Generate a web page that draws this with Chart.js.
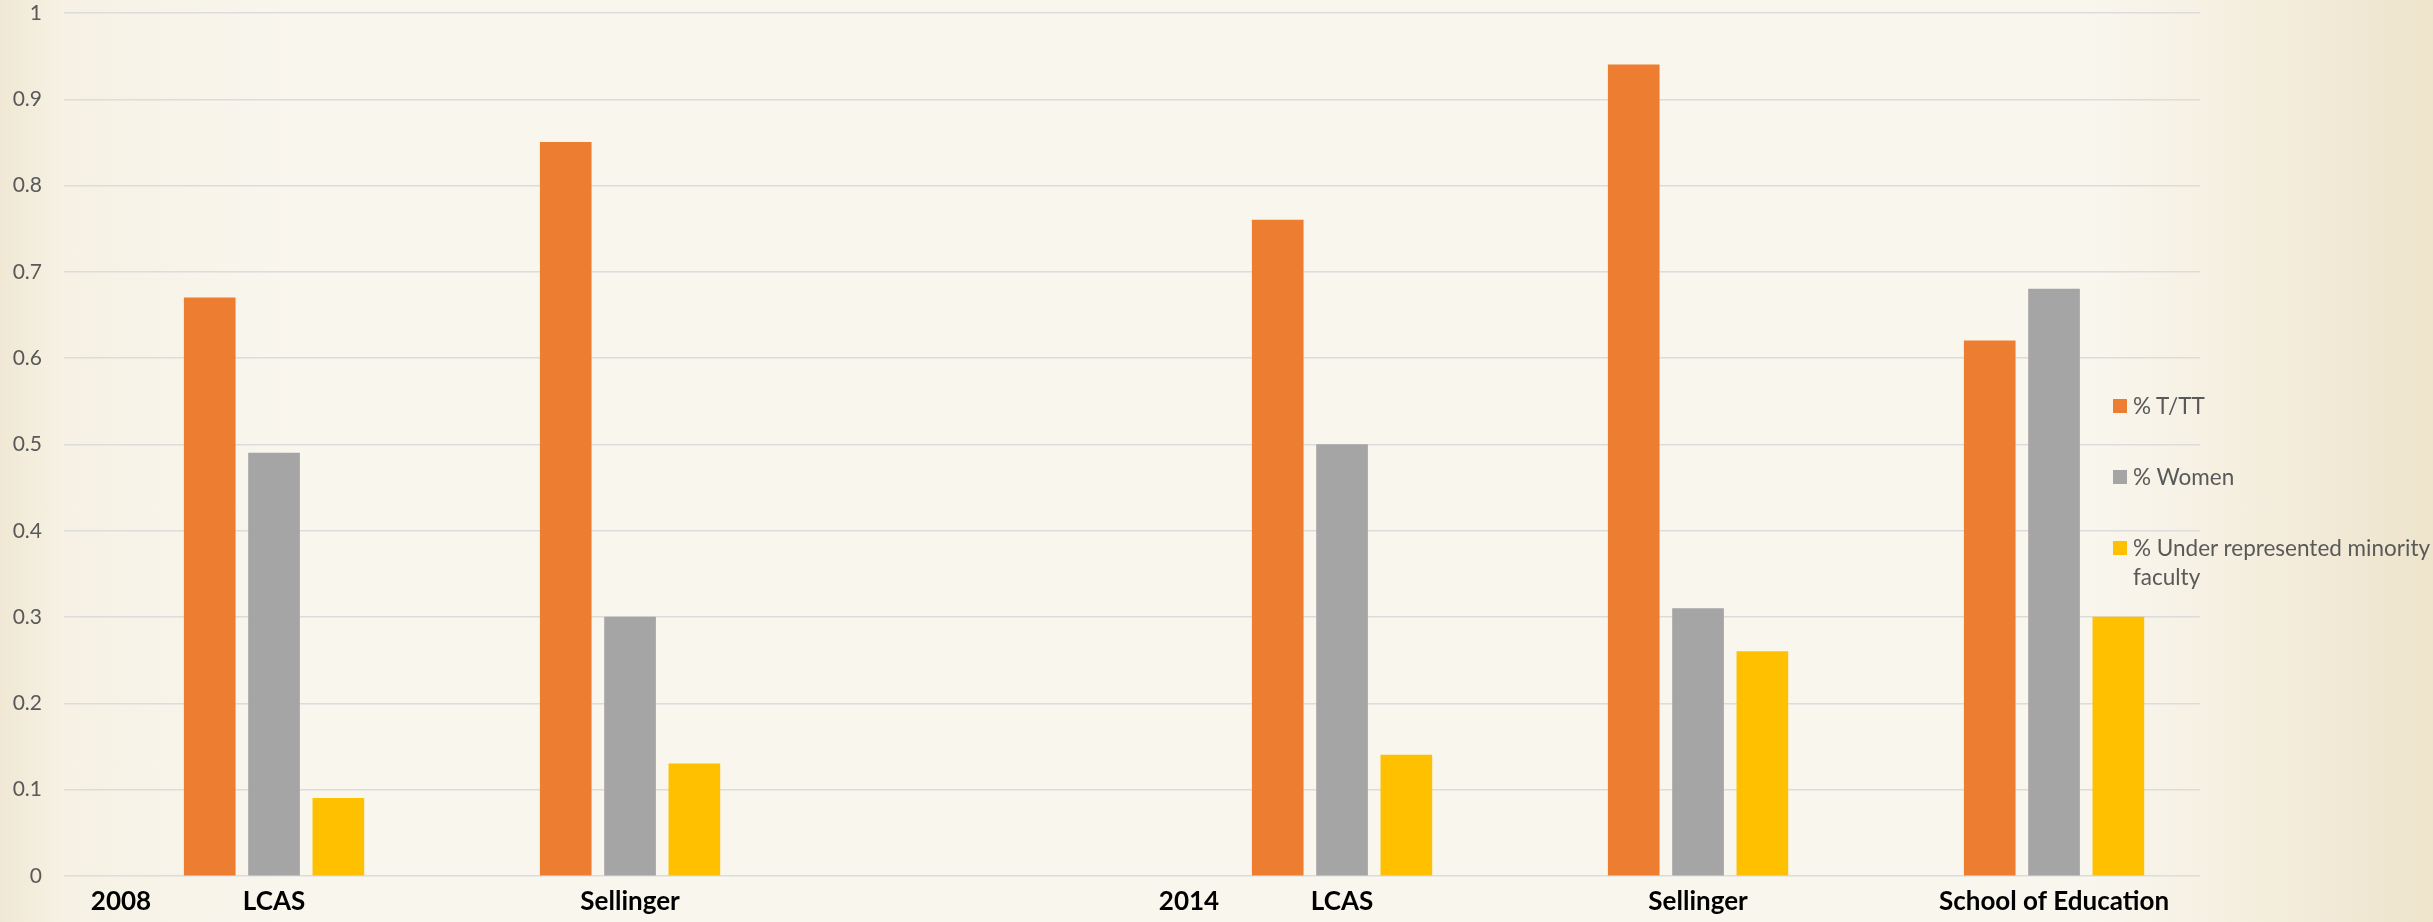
<!DOCTYPE html>
<html>
<head>
<meta charset="utf-8">
<title>Faculty 2008 / 2014</title>
<script src="https://cdn.jsdelivr.net/npm/chart.js"></script>
<style>
  html, body { margin: 0; padding: 0; overflow: hidden; }
  body {
    width: 2433px;
    height: 922px;
    position: relative;
    background: linear-gradient(to right, #f0e8d4 0%, #f6f1e4 2.5%, #f9f6ee 12%, #f9f6ee 86%, #f5efe0 92%, #eee4cc 100%);
  }
  #container { position: absolute; left: 0; top: 0; }
  #legend {
    position: absolute;
    left: 2113px;
    top: 391px;
    color: #595959;
    font: 22.5px/29px Lato, sans-serif;
  }
  #legend .item { display: flex; align-items: flex-start; margin-bottom: 42px; }
  #legend .box { width: 14px; height: 14px; margin-top: 7.5px; margin-right: 6px; flex: none; }
  #legend .text { width: 310px; }
</style>
</head>
<body>
<canvas id="container" width="2433" height="922"></canvas>
<div id="legend"></div>
<script>
const categories = ["LCAS", "Sellinger", "", "LCAS", "Sellinger", "School of Education"];
const yearLabels = ["2008", "2014"];
const yearStarts = [0, 3]; // index of the first category of each year
const seriesNames = ["% T/TT", "% Women", "% Under represented minority faculty"];
const tenureTrack = [0.67, 0.85, null, 0.76, 0.94, 0.62];
const women = [0.49, 0.30, null, 0.50, 0.31, 0.68];
const minority = [0.09, 0.13, null, 0.14, 0.26, 0.30];
const colors = ["#ED7D31", "#A5A5A5", "#FFC000"];

const ctx = document.getElementById("container");
const values = [tenureTrack, women, minority];
const datasets = [];
for (let i = 0; i < values.length; i++) {
  datasets.push({
    label: seriesNames[i],
    backgroundColor: colors[i],
    borderWidth: 0,
    data: categories.map((c, j) => ({ x: j, y: values[i][j] })),
  });
}

const myChart = new Chart(ctx, {
  type: "bar",
  data: { datasets: datasets },
  options: {
    responsive: false,
    animation: false,
    layout: { padding: { left: 12, right: 233, top: 13, bottom: 0 } },
    datasets: {
      bar: { barThickness: "flex", categoryPercentage: 0.542, barPercentage: 0.793 },
    },
    plugins: {
      legend: { display: false },
      tooltip: { enabled: false },
    },
    scales: {
      x: {
        type: "linear",
        offset: false,
        min: -0.59,
        max: 5.41,
        grid: { display: false, drawTicks: false },
        border: { display: false },
        afterBuildTicks: (scale) => {
          const ticks = [];
          yearLabels.forEach((y, k) => ticks.push({ value: yearStarts[k] - 0.43, text: y }));
          categories.forEach((c, j) => {
            if (c) ticks.push({ value: j, text: c });
          });
          ticks.sort((a, b) => a.value - b.value);
          scale.ticks = ticks;
        },
        afterFit: (scale) => { scale.height = 46; },
        ticks: {
          autoSkip: false,
          maxRotation: 0,
          padding: 10,
          color: "#000",
          font: { family: "Lato", size: 26, weight: "bold" },
          callback: (value, index, ticks) => ticks[index].text,
        },
      },
      y: {
        min: 0,
        max: 1,
        border: { display: false },
        grid: { color: "#dcdcdc", lineWidth: 1.5, drawTicks: false },
        afterFit: (scale) => {
          scale.width = 52;
          scale.paddingTop = 0;
          scale.paddingBottom = 0;
        },
        ticks: {
          stepSize: 0.1,
          padding: 22,
          color: "#595959",
          font: { family: "Lato", size: 21 },
          callback: (value) => String(Number(value.toFixed(1))),
        },
      },
    },
  },
});

// legend drawn as html next to the plot
const legendEl = document.getElementById("legend");
myChart.data.datasets.forEach((ds) => {
  const item = document.createElement("div");
  item.className = "item";
  const box = document.createElement("span");
  box.className = "box";
  box.style.background = ds.backgroundColor;
  const text = document.createElement("span");
  text.className = "text";
  text.textContent = ds.label;
  item.appendChild(box);
  item.appendChild(text);
  legendEl.appendChild(item);
});
</script>
</body>
</html>
